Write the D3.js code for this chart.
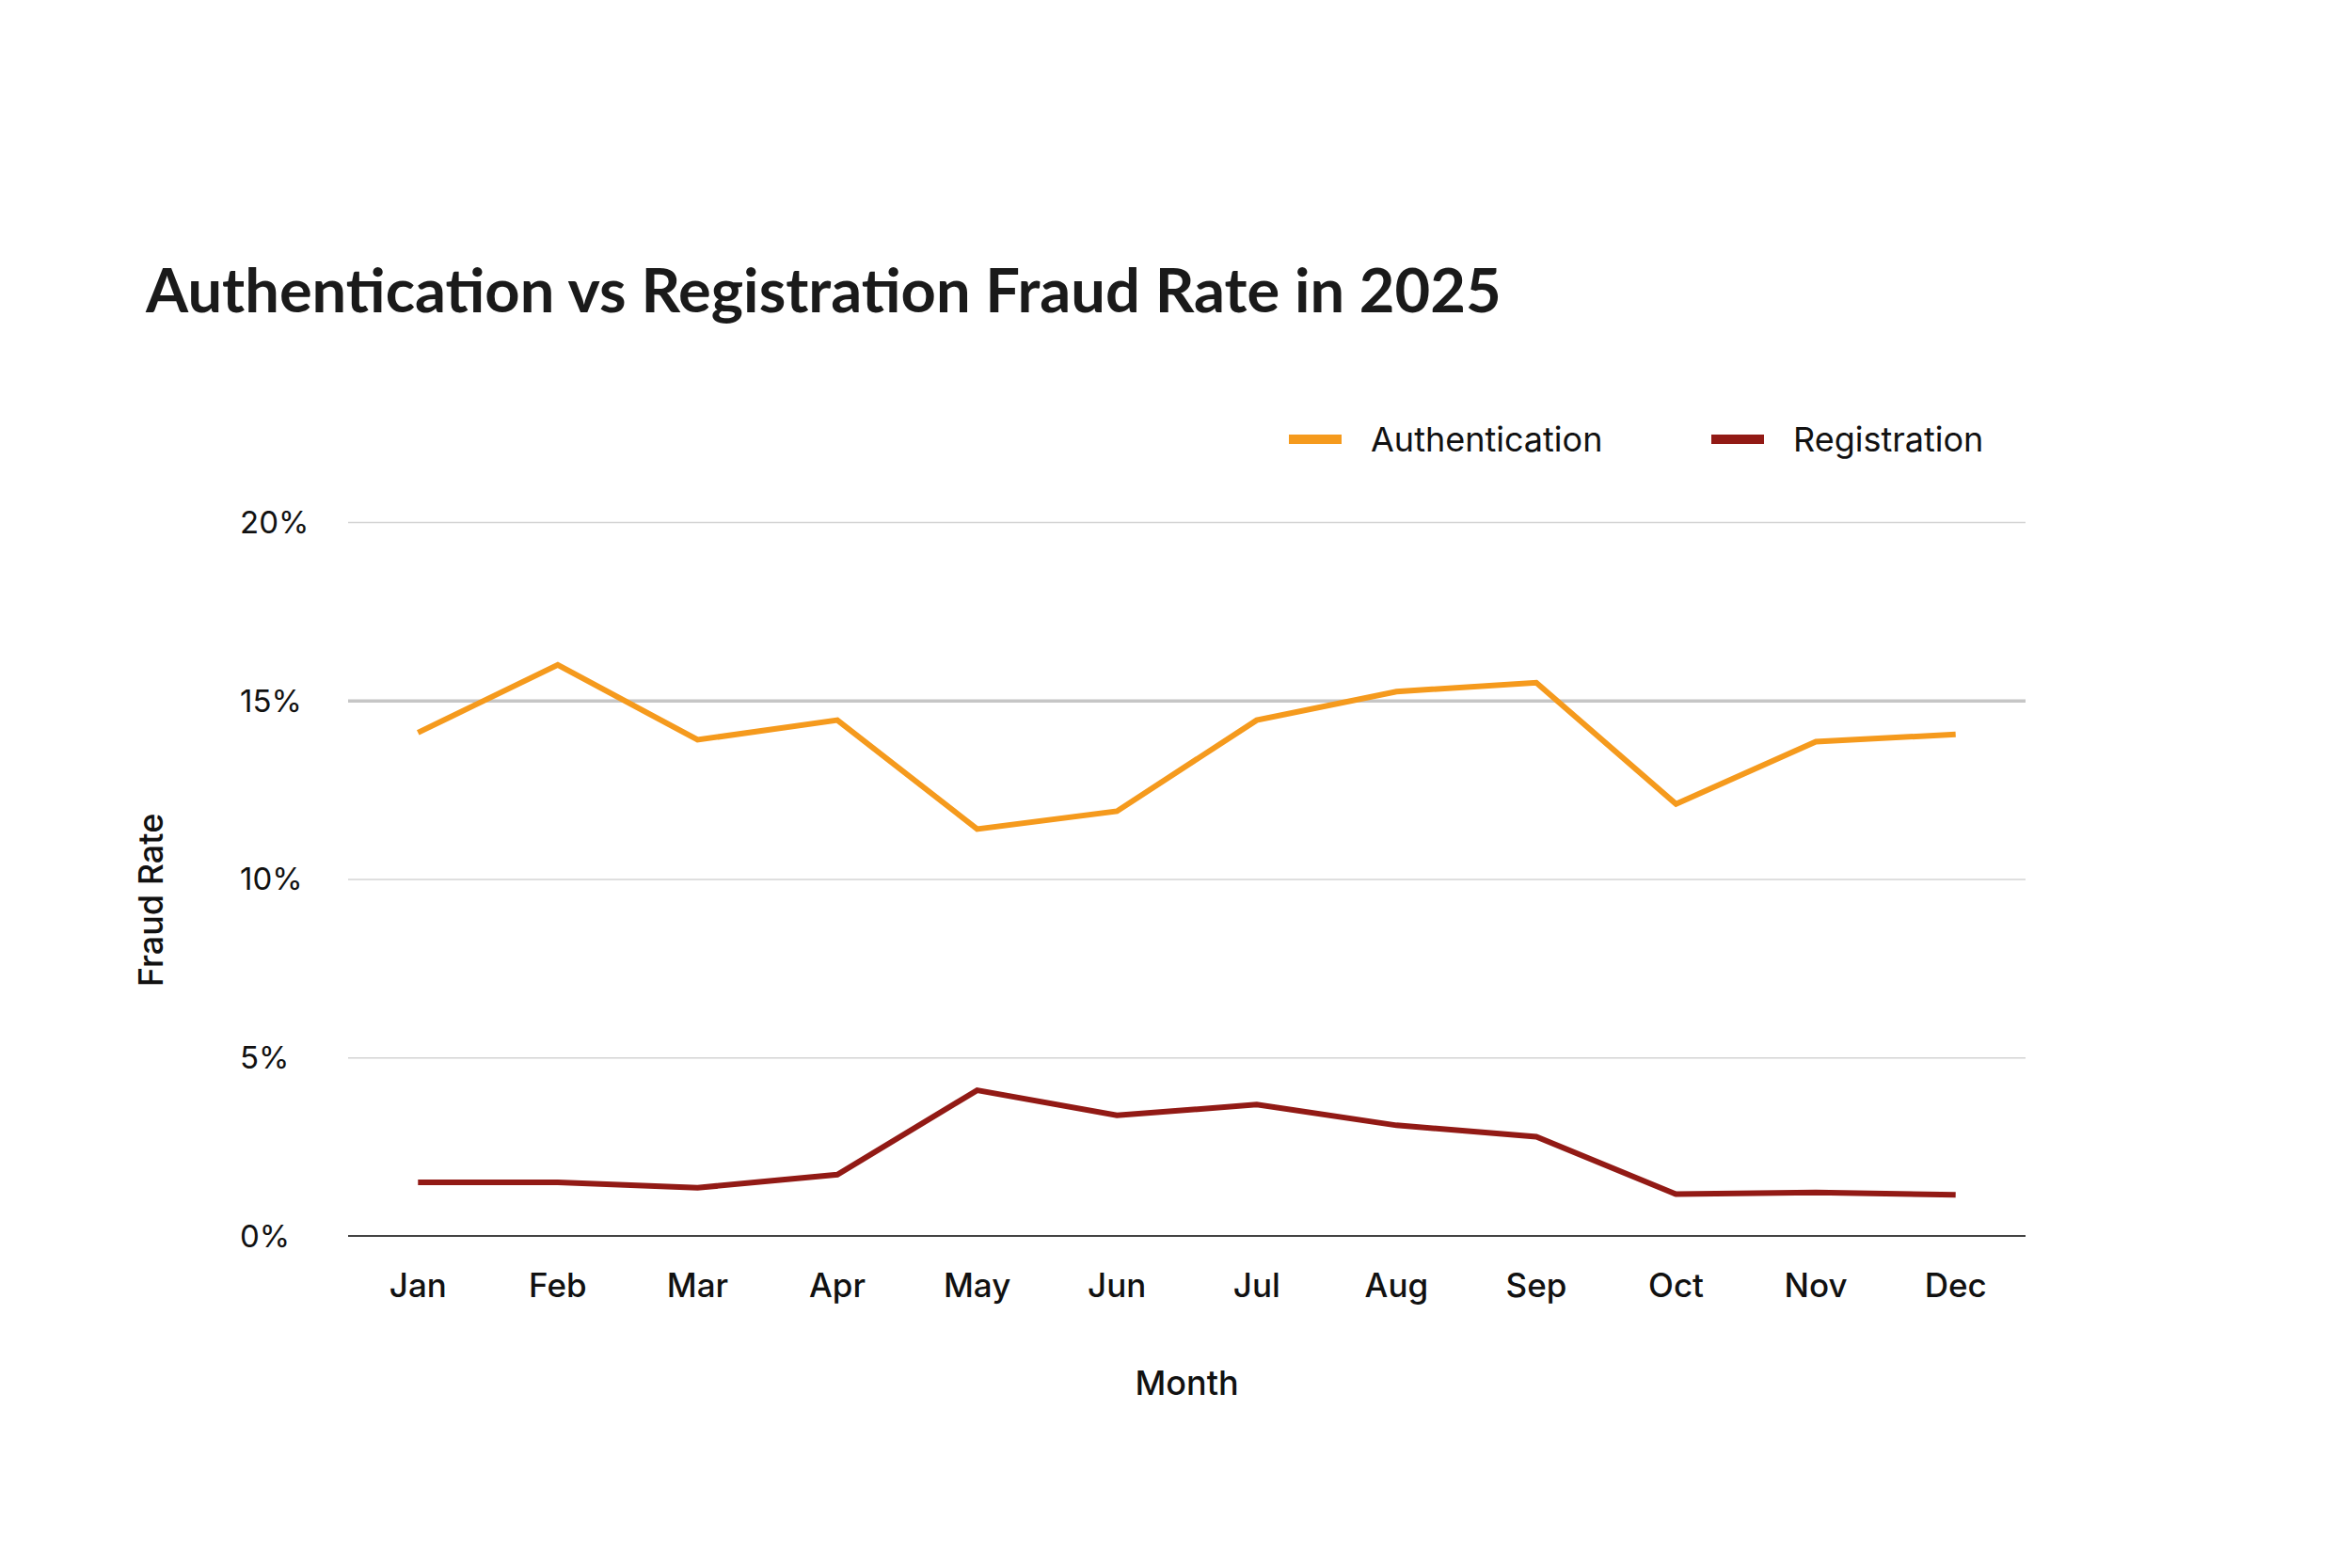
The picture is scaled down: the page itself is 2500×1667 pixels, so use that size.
<!DOCTYPE html>
<html>
<head>
<meta charset="utf-8">
<script src="https://cdn.jsdelivr.net/npm/d3@7"></script>
<style>
  body {
    margin: 0;
    background: #fff;
  }
  .grid .domain {
    display: none;
  }
</style>
</head>
<body>
<div id="chart"></div>
<script>
const months = ['Jan', 'Feb', 'Mar', 'Apr', 'May', 'Jun', 'Jul', 'Aug', 'Sep', 'Oct', 'Nov', 'Dec']
const authentication = [14.1, 16.0, 13.9, 14.45, 11.4, 11.9, 14.45, 15.25, 15.5, 12.1, 13.85, 14.05]
const registration = [1.5, 1.5, 1.35, 1.72, 4.08, 3.38, 3.68, 3.1, 2.78, 1.17, 1.22, 1.15]
const yTicks = [0, 5, 10, 15, 20]
const seriesNames = ['Authentication', 'Registration']

const colors = {
  Authentication: '#F59A1D',
  Registration: '#921A15',
}

const width = 2500
const height = 1667
const margin = { top: 555, right: 347, bottom: 353, left: 370 }
const innerW = width - margin.left - margin.right
const innerH = height - margin.top - margin.bottom

const font = "Inter, 'DejaVu Sans', sans-serif"

const svg = d3
  .select('#chart')
  .append('svg')
  .attr('width', width)
  .attr('height', height)
  .attr('viewBox', `0 0 ${width} ${height}`)
  .style('display', 'block')
  .style('font-family', font)

// title (Lato bold is closer to the narrow heading face)
svg
  .append('text')
  .attr('x', 155)
  .attr('y', 332)
  .attr('fill', '#1a1a1a')
  .style('font-family', "Lato, 'DejaVu Sans', sans-serif")
  .style('font-size', '65px')
  .style('font-weight', 700)
  .text('Authentication vs Registration Fraud Rate in 2025')

const g = svg.append('g').attr('transform', `translate(${margin.left},${margin.top})`)

const x = d3.scalePoint().domain(months).range([0, innerW]).padding(0.5)
const y = d3.scaleLinear().domain([0, 20]).range([innerH, 0])

// gridlines, the 15% one is drawn heavier in the original
g.append('g')
  .attr('class', 'grid')
  .call(d3.axisLeft(y).tickValues(yTicks.filter((d) => d > 0)).tickSize(-innerW).tickFormat(''))
  .selectAll('line')
  .attr('stroke-width', (d) => (d === 15 ? 3.5 : 1.5))
  .attr('stroke', (d) => (d === 15 ? '#c6c6c6' : '#d4d4d4'))

// baseline
g.append('line')
  .attr('x1', 0)
  .attr('x2', innerW)
  .attr('y1', y(0))
  .attr('y2', y(0))
  .attr('stroke', '#444')
  .attr('stroke-width', 2)

// y tick labels, left aligned
g.append('g')
  .selectAll('text')
  .data(yTicks)
  .enter()
  .append('text')
  .attr('x', 255 - margin.left)
  .attr('y', (d) => y(d))
  .attr('dy', '0.36em')
  .attr('fill', '#111')
  .style('font-size', '33px')
  .text((d) => d + '%')

// month labels
g.append('g')
  .selectAll('text')
  .data(months)
  .enter()
  .append('text')
  .attr('x', (d) => x(d))
  .attr('y', 1366 - margin.top)
  .attr('dy', '0.36em')
  .attr('text-anchor', 'middle')
  .attr('fill', '#111')
  .style('font-size', '35px')
  .style('font-weight', 500)
  .text((d) => d)

// axis titles
svg
  .append('text')
  .attr('x', margin.left + innerW / 2)
  .attr('y', 1470)
  .attr('dy', '0.36em')
  .attr('text-anchor', 'middle')
  .attr('fill', '#111')
  .style('font-size', '36px')
  .style('font-weight', 500)
  .text('Month')

svg
  .append('text')
  .attr('transform', 'translate(160, 957) rotate(-90)')
  .attr('dy', '0.36em')
  .attr('text-anchor', 'middle')
  .attr('fill', '#111')
  .style('font-size', '36px')
  .style('font-weight', 500)
  .text('Fraud Rate')

// lines
const series = [
  { name: 'Authentication', values: authentication },
  { name: 'Registration', values: registration },
]

const line = d3
  .line()
  .x((d, i) => x(months[i]))
  .y((d) => y(d))

g.append('g')
  .selectAll('path')
  .data(series)
  .enter()
  .append('path')
  .attr('fill', 'none')
  .attr('stroke', (d) => colors[d.name])
  .attr('stroke-width', 6)
  .attr('stroke-linejoin', 'miter')
  .attr('d', (d) => line(d.values))

// legend
const legendX = [1370, 1819]
const legend = svg
  .append('g')
  .selectAll('g')
  .data(seriesNames)
  .enter()
  .append('g')
  .attr('transform', (d, i) => `translate(${legendX[i]}, 467)`)

legend
  .append('rect')
  .attr('x', 0)
  .attr('y', -5)
  .attr('width', 56)
  .attr('height', 10)
  .attr('fill', (d) => colors[d])

legend
  .append('text')
  .attr('x', 87)
  .attr('dy', '0.36em')
  .attr('fill', '#111')
  .style('font-size', '36px')
  .text((d) => d)
</script>
</body>
</html>
